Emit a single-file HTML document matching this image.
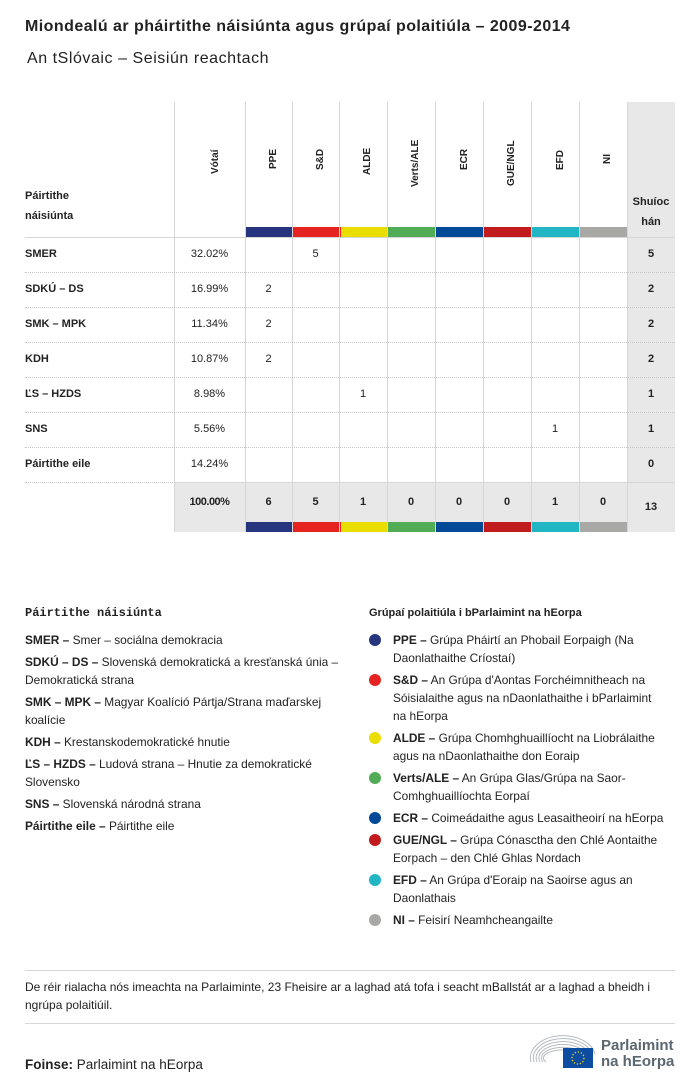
<!DOCTYPE html>
<html><head><meta charset="utf-8">
<style>
*{margin:0;padding:0;box-sizing:border-box}
body{width:700px;height:1091px;background:#fff;position:relative;font-family:"Liberation Sans",sans-serif;color:#222;overflow:hidden}
.a{position:absolute}
.t{font-size:11px;white-space:nowrap}
.b{font-weight:bold}
.vl{position:absolute;width:1px;background:#d6d6d6}
.hl{position:absolute;left:25px;width:650px;height:0;border-top:1px dotted #c8c8c8}
.rot{position:absolute;font-size:10px;font-weight:bold;transform:rotate(-90deg);transform-origin:left top;white-space:nowrap}
.c{position:absolute;text-align:center;font-size:11px}
.leg{position:absolute;font-size:11.9px;line-height:18px;white-space:nowrap}
.dot{position:absolute;width:12px;height:12px;border-radius:50%}
</style></head><body>
<div class="a b" style="left:25px;top:18px;font-size:16px;letter-spacing:0.45px">Miondealú ar pháirtithe náisiúnta agus grúpaí polaitiúla – 2009-2014</div>
<div class="a" style="left:27px;top:50px;font-size:16px;letter-spacing:0.55px">An tSlóvaic – Seisiún reachtach</div>

<div class="a" style="left:627px;top:102px;width:48px;height:430px;background:#e8e8e8"></div>
<div class="a" style="left:174px;top:482px;width:453px;height:50px;background:#e8e8e8"></div>

<div class="a" style="left:245px;top:227px;width:382px;height:10px;display:flex">
<div style="flex:1;background:#27357e"></div><div style="flex:1;background:#e52421"></div><div style="flex:1;background:#eadd00"></div><div style="flex:1;background:#52ac56"></div><div style="flex:1;background:#024a98"></div><div style="flex:1;background:#c21b1e"></div><div style="flex:1;background:#20b6c4"></div><div style="flex:1;background:#a8a8a6"></div></div>
<div class="a" style="left:245px;top:522px;width:382px;height:10px;display:flex">
<div style="flex:1;background:#27357e"></div><div style="flex:1;background:#e52421"></div><div style="flex:1;background:#eadd00"></div><div style="flex:1;background:#52ac56"></div><div style="flex:1;background:#024a98"></div><div style="flex:1;background:#c21b1e"></div><div style="flex:1;background:#20b6c4"></div><div style="flex:1;background:#a8a8a6"></div></div>

<div class="vl" style="left:174px;top:102px;height:430px"></div>
<div class="vl" style="left:245px;top:102px;height:430px"></div>
<div class="vl" style="left:292px;top:102px;height:430px"></div>
<div class="vl" style="left:339px;top:102px;height:430px"></div>
<div class="vl" style="left:387px;top:102px;height:430px"></div>
<div class="vl" style="left:435px;top:102px;height:430px"></div>
<div class="vl" style="left:483px;top:102px;height:430px"></div>
<div class="vl" style="left:531px;top:102px;height:430px"></div>
<div class="vl" style="left:579px;top:102px;height:430px"></div>
<div class="vl" style="left:627px;top:102px;height:430px"></div>

<div class="a" style="left:25px;top:237px;width:650px;height:1px;background:#d6d6d6"></div>
<div class="hl" style="top:272px"></div>
<div class="hl" style="top:307px"></div>
<div class="hl" style="top:342px"></div>
<div class="hl" style="top:377px"></div>
<div class="hl" style="top:412px"></div>
<div class="hl" style="top:447px"></div>
<div class="hl" style="top:482px"></div>
<div class="a" style="left:174px;top:482px;width:501px;height:1px;background:#d6d6d6"></div>

<div class="a b" style="left:25px;top:186px;font-size:11px;line-height:20px">Páirtithe<br>náisiúnta</div>
<div class="rot" style="left:210px;top:174px">Vótaí</div>
<div class="rot" style="left:268px;top:169px">PPE</div>
<div class="rot" style="left:315px;top:170px">S&amp;D</div>
<div class="rot" style="left:362px;top:175px">ALDE</div>
<div class="rot" style="left:410px;top:187px">Verts/ALE</div>
<div class="rot" style="left:459px;top:170px">ECR</div>
<div class="rot" style="left:506px;top:186px">GUE/NGL</div>
<div class="rot" style="left:555px;top:170px">EFD</div>
<div class="rot" style="left:602px;top:164px">NI</div>
<div class="a b" style="left:627px;top:192px;width:48px;text-align:center;font-size:11px;line-height:20px">Shuíoc<br>hán</div>

<div class="a t b" style="left:25px;top:248px">SMER</div>
<div class="a t b" style="left:25px;top:283px">SDKÚ – DS</div>
<div class="a t b" style="left:25px;top:318px">SMK – MPK</div>
<div class="a t b" style="left:25px;top:353px">KDH</div>
<div class="a t b" style="left:25px;top:388px">ĽS – HZDS</div>
<div class="a t b" style="left:25px;top:423px">SNS</div>
<div class="a t b" style="left:25px;top:458px">Páirtithe eile</div>

<div class="c" style="left:174px;width:71px;top:248px">32.02%</div>
<div class="c" style="left:174px;width:71px;top:283px">16.99%</div>
<div class="c" style="left:174px;width:71px;top:318px">11.34%</div>
<div class="c" style="left:174px;width:71px;top:353px">10.87%</div>
<div class="c" style="left:174px;width:71px;top:388px">8.98%</div>
<div class="c" style="left:174px;width:71px;top:423px">5.56%</div>
<div class="c" style="left:174px;width:71px;top:458px">14.24%</div>

<div class="c" style="left:292px;width:47px;top:248px">5</div>
<div class="c" style="left:245px;width:47px;top:283px">2</div>
<div class="c" style="left:245px;width:47px;top:318px">2</div>
<div class="c" style="left:245px;width:47px;top:353px">2</div>
<div class="c" style="left:339px;width:48px;top:388px">1</div>
<div class="c" style="left:531px;width:48px;top:423px">1</div>

<div class="c b" style="left:627px;width:48px;top:248px">5</div>
<div class="c b" style="left:627px;width:48px;top:283px">2</div>
<div class="c b" style="left:627px;width:48px;top:318px">2</div>
<div class="c b" style="left:627px;width:48px;top:353px">2</div>
<div class="c b" style="left:627px;width:48px;top:388px">1</div>
<div class="c b" style="left:627px;width:48px;top:423px">1</div>
<div class="c b" style="left:627px;width:48px;top:458px">0</div>

<div class="c b" style="left:174px;width:71px;top:496px;letter-spacing:-0.5px">100.00%</div>
<div class="c b" style="left:245px;width:47px;top:496px">6</div>
<div class="c b" style="left:292px;width:47px;top:496px">5</div>
<div class="c b" style="left:339px;width:48px;top:496px">1</div>
<div class="c b" style="left:387px;width:48px;top:496px">0</div>
<div class="c b" style="left:435px;width:48px;top:496px">0</div>
<div class="c b" style="left:483px;width:48px;top:496px">0</div>
<div class="c b" style="left:531px;width:48px;top:496px">1</div>
<div class="c b" style="left:579px;width:48px;top:496px">0</div>
<div class="c b" style="left:627px;width:48px;top:501px">13</div>

<div class="a b" style="left:25px;top:606px;font-family:'Liberation Mono',monospace;font-size:12px">Páirtithe náisiúnta</div>
<div class="leg" style="left:25px;top:631px"><b>SMER –</b> Smer – sociálna demokracia</div>
<div class="leg" style="left:25px;top:653px"><b>SDKÚ – DS –</b> Slovenská demokratická a kresťanská únia –<br>Demokratická strana</div>
<div class="leg" style="left:25px;top:693px"><b>SMK – MPK –</b> Magyar Koalíció Pártja/Strana maďarskej<br>koalície</div>
<div class="leg" style="left:25px;top:733px"><b>KDH –</b> Krestanskodemokratické hnutie</div>
<div class="leg" style="left:25px;top:755px"><b>ĽS – HZDS –</b> Ludová strana – Hnutie za demokratické<br>Slovensko</div>
<div class="leg" style="left:25px;top:795px"><b>SNS –</b> Slovenská národná strana</div>
<div class="leg" style="left:25px;top:817px"><b>Páirtithe eile –</b> Páirtithe eile</div>

<div class="a b" style="left:369px;top:607px;font-size:11px">Grúpaí polaitiúla i bParlaimint na hEorpa</div>
<div class="dot" style="left:369px;top:634px;background:#27357e"></div>
<div class="leg" style="left:393px;top:631px"><b>PPE –</b> Grúpa Pháirtí an Phobail Eorpaigh (Na<br>Daonlathaithe Críostaí)</div>
<div class="dot" style="left:369px;top:674px;background:#e52421"></div>
<div class="leg" style="left:393px;top:671px"><b>S&amp;D –</b> An Grúpa d'Aontas Forchéimnitheach na<br>Sóisialaithe agus na nDaonlathaithe i bParlaimint<br>na hEorpa</div>
<div class="dot" style="left:369px;top:732px;background:#eadd00"></div>
<div class="leg" style="left:393px;top:729px"><b>ALDE –</b> Grúpa Chomhghuaillíocht na Liobrálaithe<br>agus na nDaonlathaithe don Eoraip</div>
<div class="dot" style="left:369px;top:772px;background:#52ac56"></div>
<div class="leg" style="left:393px;top:769px"><b>Verts/ALE –</b> An Grúpa Glas/Grúpa na Saor-<br>Comhghuaillíochta Eorpaí</div>
<div class="dot" style="left:369px;top:812px;background:#024a98"></div>
<div class="leg" style="left:393px;top:809px"><b>ECR –</b> Coimeádaithe agus Leasaitheoirí na hEorpa</div>
<div class="dot" style="left:369px;top:834px;background:#c21b1e"></div>
<div class="leg" style="left:393px;top:831px"><b>GUE/NGL –</b> Grúpa Cónasctha den Chlé Aontaithe<br>Eorpach – den Chlé Ghlas Nordach</div>
<div class="dot" style="left:369px;top:874px;background:#20b6c4"></div>
<div class="leg" style="left:393px;top:871px"><b>EFD –</b> An Grúpa d'Eoraip na Saoirse agus an<br>Daonlathais</div>
<div class="dot" style="left:369px;top:914px;background:#a8a8a6"></div>
<div class="leg" style="left:393px;top:911px"><b>NI –</b> Feisirí Neamhcheangailte</div>

<div class="a" style="left:25px;top:970px;width:650px;height:1px;background:#d6d6d6"></div>
<div class="leg" style="left:25px;top:978px;font-size:12px">De réir rialacha nós imeachta na Parlaiminte, 23 Fheisire ar a laghad atá tofa i seacht mBallstát ar a laghad a bheidh i<br>ngrúpa polaitiúil.</div>
<div class="a" style="left:25px;top:1023px;width:650px;height:1px;background:#d6d6d6"></div>
<div class="a" style="left:25px;top:1057px;font-size:13.5px"><b>Foinse:</b> Parlaimint na hEorpa</div>

<svg class="a" style="left:528px;top:1032px" width="70" height="40" viewBox="0 0 70 40">
<g fill="none" stroke="#b8bcc0" stroke-width="1">
<path d="M3 30 A32 22 0 0 1 67 22"/>
<path d="M6 30 A29 19 0 0 1 64 22"/>
<path d="M9 30 A26 16 0 0 1 61 22"/>
<path d="M12 30 A23 13 0 0 1 58 22"/>
<path d="M15 30 A20 10 0 0 1 55 22"/>
<path d="M18 30 A17 7 0 0 1 52 22"/>
</g>
<rect x="35" y="16" width="30" height="20" fill="#0c4da2"/>
<circle cx="50" cy="26" r="6" fill="none" stroke="#f3d000" stroke-width="1.3" stroke-dasharray="1.3 1.8"/>
</svg>
<div class="a b" style="left:601px;top:1038px;font-size:15px;line-height:16px;color:#5b6770">Parlaimint<br>na hEorpa</div>
</body></html>
